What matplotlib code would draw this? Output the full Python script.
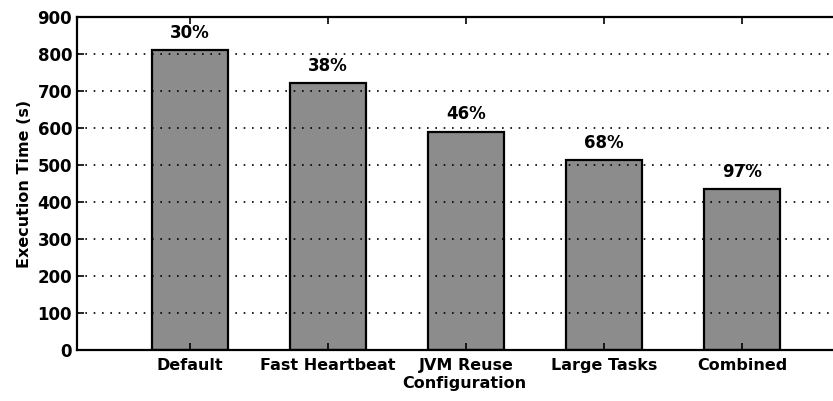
import matplotlib.pyplot as plt

configs = ["Default", "Fast Heartbeat", "JVM Reuse", "Large Tasks", "Combined"]
exec_time = [811, 722, 590, 513, 435]
pct_labels = ["30%", "38%", "46%", "68%", "97%"]

plt.rcParams["font.family"] = "DejaVu Sans"
plt.rcParams["font.weight"] = "bold"

fig = plt.figure(figsize=(8.33, 4.01), dpi=100)
ax = fig.add_axes([0.0924, 0.1272, 0.931, 0.8304])

x = list(range(len(configs)))
ax.bar(x, exec_time, width=0.55, color="#8c8c8c", edgecolor="black", linewidth=1.6, zorder=1)

for xi, v, lab in zip(x, exec_time, pct_labels):
    ax.annotate(lab, (xi, v), xytext=(0, 6), textcoords="offset points",
                ha="center", va="bottom", fontsize=12, fontweight="bold")

ax.set_xlim(-0.82, 4.8)
ax.set_ylim(0, 900)
ax.set_yticks(range(0, 901, 100))
ax.set_xticks(x)
ax.set_xticklabels(configs)
ax.yaxis.grid(True, color="black", linestyle=(0, (1, 4)), linewidth=1.2, zorder=2)
ax.set_axisbelow(False)

ax.tick_params(direction="in", top=True, right=True, length=5, width=1.2, labelsize=12)
ax.tick_params(axis="x", labelsize=11.5, pad=6)
for s in ax.spines.values():
    s.set_linewidth(1.6)

ax.set_xlabel("Configuration", fontsize=11.5, fontweight="bold", labelpad=2)
ax.set_ylabel("Execution Time (s)", fontsize=11.5, fontweight="bold", labelpad=4)

fig.savefig("out.png", dpi=100)
